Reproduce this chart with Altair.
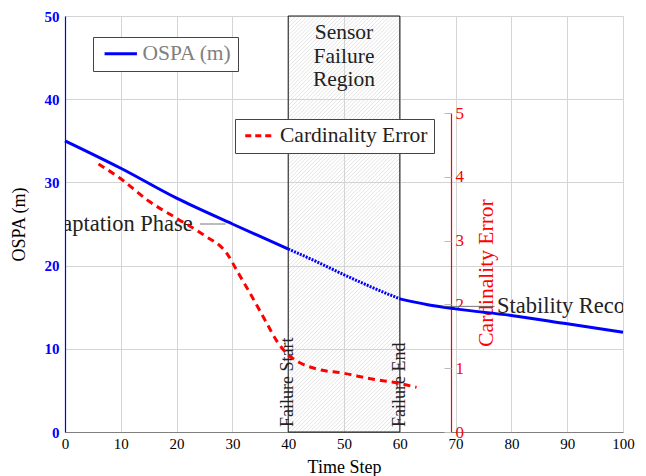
import altair as alt
import pandas as pd

# ---------------- data ----------------
time_blue = [0, 10, 20, 30, 40, 45, 50, 55, 60, 65, 70, 80, 90, 100]
ospa = [35.0, 31.7, 28.1, 25.0, 22.0, 20.5, 18.9, 17.4, 16.0, 15.3, 14.8, 14.0, 13.0, 12.0]

time_red = [6, 10, 15, 20, 25, 29, 31, 33, 36, 38, 40, 42, 45, 50, 55, 60, 63]
card = [4.20, 3.97, 3.62, 3.35, 3.08, 2.80, 2.50, 2.20, 1.73, 1.42, 1.21, 1.09, 0.99, 0.92, 0.83, 0.76, 0.70]

fail_start, fail_end = 40, 60
x_ticks = [0, 10, 20, 30, 40, 50, 60, 70, 80, 90, 100]
left_ticks = [0, 10, 20, 30, 40, 50]
right_ticks = [0, 1, 2, 3, 4, 5]

ann_text = ["Adaptation Phase", "Stability Recovery"]
ann_x = [22.9, 77.4]
ann_y = [25.0, 15.1]
ann_align = ["right", "left"]
pin_x = [24.2, 67.8]
pin_x2 = [28.8, 77.0]

region_label = "Sensor\nFailure\nRegion"
edge_labels = ["Failure Start", "Failure End"]

# ---------------- layout ----------------
W, H = 558, 416
FONT = "Liberation Serif"
BIG = 21.5
k = (W / 100) / (H / 50)  # 45-degree hatch slope in data units

xs = alt.Scale(domain=[0, 100], nice=False, zero=False)
ys = alt.Scale(domain=[0, 50], nice=False)

left_axis = alt.Axis(values=left_ticks, title="OSPA (m)", titleFont=FONT, titleFontSize=18,
                     titleFontWeight="normal", titleColor="black", titlePadding=16,
                     labelColor="blue", labelFont=FONT, labelFontSize=15, labelFontWeight="bold",
                     labelPadding=6, ticks=False, domainColor="blue", domainWidth=1.2,
                     grid=True, gridColor="#d4d4d4", gridWidth=1)
x_axis = alt.Axis(values=x_ticks, title="Time Step", titleFont=FONT, titleFontSize=18,
                  titleFontWeight="normal", titleColor="black", titlePadding=7,
                  labelColor="black", labelFont=FONT, labelFontSize=15, labelPadding=4,
                  ticks=False, domainColor="#808080", grid=True, gridColor="#d4d4d4", gridWidth=1,
                  labelFlush=False)


def X(f):
    return alt.X(f, scale=xs, axis=x_axis)


def YL(f):
    return alt.Y(f, scale=ys, axis=left_axis)


# blue line segments
seg = []
for t, v in zip(time_blue, ospa):
    if t <= fail_start:
        seg.append({"t": t, "v": v, "seg": "a", "series": "OSPA (m)"})
    if fail_start <= t <= fail_end:
        seg.append({"t": t, "v": v, "seg": "f", "series": "OSPA (m)"})
    if t >= fail_end:
        seg.append({"t": t, "v": v, "seg": "b", "series": "OSPA (m)"})
blue_df = pd.DataFrame(seg)

hatch = alt.Chart(alt.sequence(start=fail_start - 50 / k, stop=fail_end, step=0.7, as_="t")).transform_calculate(
    x1=f"max({fail_start}, datum.t)",
    x2b=f"min({fail_end}, datum.t + {50 / k})",
).transform_calculate(
    y1=f"{k} * (datum.x1 - datum.t)",
    y2=f"{k} * (datum.x2b - datum.t)",
).mark_rule(color="#d2d2d2", strokeWidth=0.6).encode(
    x=X("x1:Q"), x2="x2b:Q", y=YL("y1:Q"), y2="y2:Q"
)

region_df = pd.DataFrame({"x": [fail_start], "x2": [fail_end], "y": [0], "y2": [50]})
region = alt.Chart(region_df).mark_rect(fillOpacity=0, stroke="black", strokeWidth=0.9).encode(
    x=X("x:Q"), x2="x2:Q", y=YL("y:Q"), y2="y2:Q"
)

blue_solid = alt.Chart(blue_df).transform_filter("datum.seg != 'f'").mark_line(
    strokeWidth=3, interpolate="monotone"
).encode(
    x=X("t:Q"), y=YL("v:Q"), detail="seg:N",
    color=alt.Color("series:N", scale=alt.Scale(domain=["OSPA (m)"], range=["blue"]),
                    legend=alt.Legend(orient="none", legendX=28, legendY=21, title=None,
                                      labelFont=FONT, labelFontSize=BIG, labelColor="gray",
                                      symbolType="M-2,0H2", symbolSize=262, symbolStrokeWidth=3,
                                      symbolOffset=11, labelOffset=11, padding=6,
                                      strokeColor="#444", fillColor="white", cornerRadius=0))
)
blue_dot = alt.Chart(blue_df).transform_filter("datum.seg == 'f'").mark_line(
    strokeWidth=3, interpolate="monotone", color="blue", strokeDash=[2, 1.2]
).encode(x=X("t:Q"), y=YL("v:Q"))

ann_df = pd.DataFrame({"text": ann_text, "x": ann_x, "y": ann_y, "align": ann_align,
                       "px": pin_x, "px2": pin_x2})
pins = alt.Chart(ann_df).mark_rule(color="#555", strokeWidth=0.8).encode(
    x=X("px:Q"), x2="px2:Q", y=YL("y:Q")
)
ann_r = alt.Chart(ann_df).transform_filter("datum.align == 'right'").mark_text(
    font=FONT, fontSize=22.5, align="right", baseline="middle", clip=True, color="#222"
).encode(x=X("x:Q"), y=YL("y:Q"), text="text:N")
ann_l = alt.Chart(ann_df).transform_filter("datum.align == 'left'").mark_text(
    font=FONT, fontSize=22.5, align="left", baseline="middle", clip=True, color="#222"
).encode(x=X("x:Q"), y=YL("y:Q"), text="text:N")

reg_lab = alt.Chart(pd.DataFrame({"x": [(fail_start + fail_end) / 2], "y": [47.2], "t": [region_label]})).mark_text(
    font=FONT, fontSize=BIG, align="center", baseline="alphabetic", lineBreak="\n", lineHeight=23.5, color="#222"
).encode(x=X("x:Q"), y=YL("y:Q"), text="t:N")

edge_df = pd.DataFrame({"x": [fail_start, fail_end], "y": [0.6, 0.6], "t": edge_labels})
edge_lab = alt.Chart(edge_df).mark_text(
    font=FONT, fontSize=18, align="left", baseline="middle", angle=270, color="#222"
).encode(x=X("x:Q"), y=YL("y:Q"), text="t:N")

left_layer = alt.layer(hatch, region, blue_solid, blue_dot, pins, ann_r, ann_l, reg_lab, edge_lab)

# red (cardinality) on the secondary axis
red_df = pd.DataFrame({"t": time_red, "c": card, "series": "Cardinality Error"})
r_scale = alt.Scale(domain=[0, 5], range=[H, 97], nice=False)
red_line = alt.Chart(red_df).mark_line(strokeWidth=3, strokeDash=[7, 5], interpolate="monotone").encode(
    x=X("t:Q"),
    y=alt.Y("c:Q", scale=r_scale,
            axis=alt.Axis(orient="right", offset=-172, values=right_ticks, ticks=False, grid=False,
                          domainColor="red", domainWidth=1.2, labelColor="red", labelFont=FONT,
                          labelFontSize=17, labelPadding=4, title="Cardinality Error",
                          titleColor="red", titleFont=FONT, titleFontSize=BIG, titleFontWeight="normal",
                          titleAngle=270, titlePadding=34)),
    color=alt.Color("series:N", scale=alt.Scale(domain=["Cardinality Error"], range=["red"]),
                    legend=alt.Legend(orient="none", legendX=170, legendY=103, title=None,
                                      labelFont=FONT, labelFontSize=BIG, labelColor="#222",
                                      symbolType="M-2,0H2", symbolSize=225, symbolStrokeWidth=3,
                                      symbolDash=[6, 4], symbolOffset=8.5, labelOffset=9, padding=6,
                                      strokeColor="#444", fillColor="white", cornerRadius=0)),
)
red_ticks = alt.Chart(red_df).mark_line(opacity=0).encode(
    x=X("t:Q"),
    y=alt.Y("c:Q", scale=r_scale,
            axis=alt.Axis(orient="left", offset=-386, values=right_ticks, labels=False, domain=False,
                          ticks=True, tickColor="#bbbbbb", tickSize=7, grid=False, title=None)),
)

chart = alt.layer(left_layer, red_line, red_ticks).resolve_scale(
    y="independent", color="independent"
).properties(
    width=W, height=H,
    autosize=alt.AutoSizeParams(type="none"),
    padding={"left": 57, "top": 8, "right": 15, "bottom": 44},
).configure_view(stroke="#808080", strokeWidth=1).configure(background="white")

chart.save("out.html", embed_options={"renderer": "svg", "actions": False})
